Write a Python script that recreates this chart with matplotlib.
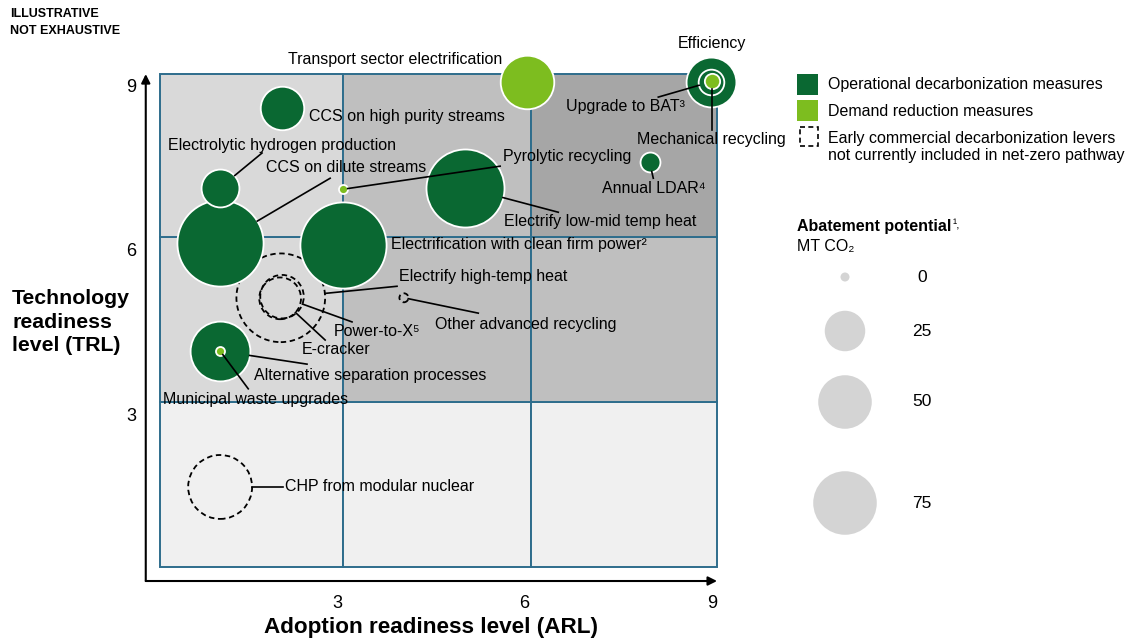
import matplotlib

matplotlib.use("Agg")
import matplotlib.pyplot as plt
import numpy as np
from matplotlib.patches import Rectangle

plt.rcParams["font.family"] = ["Liberation Sans", "DejaVu Sans"]

DPI = 100
W, H = 1128, 638

DARK_GREEN = "#0a6832"
LIGHT_GREEN = "#7dbd1f"
GRID_BLUE = "#2e6d8c"

# bubbles: adoption readiness (x), technology readiness (y), abatement MT CO2, lever type
NAMES = [
    "Electrify high-temp heat", "CCS on dilute streams", "Electrification with clean firm power",
    "Electrify low-mid temp heat", "CHP from modular nuclear", "Alternative separation processes",
    "Transport sector electrification", "Efficiency", "CCS on high purity streams", "Power-to-X",
    "E-cracker", "Electrolytic hydrogen production", "Upgrade to BAT", "Annual LDAR",
    "Mechanical recycling", "Pyrolytic recycling", "Municipal waste upgrades", "Other advanced recycling",
]
ARL = [2.1, 1.13, 3.1, 5.05, 1.13, 1.13, 6.04, 8.99, 2.12, 2.12, 2.09, 1.13, 8.99, 8.0, 9.0, 3.1, 1.13, 4.07]
TRL = [5.12, 6.12, 6.09, 7.13, 1.67, 4.15, 9.06, 9.06, 8.59, 5.14, 5.11, 7.13, 9.06, 7.6, 9.07, 7.1, 4.15, 5.12]
ABATEMENT = [160, 150, 150, 120, 76, 65, 50, 42, 30, 30, 27, 21, 7, 3, 1, 0, 0, 0]
LEVER = ["early", "op", "op", "op", "early", "op", "demand", "op", "op", "early",
         "early", "op", "op", "op", "demand", "demand", "demand", "early"]

SIZE_LEGEND = [0, 25, 50, 75]

# quadrant grid
X_EDGES = [0.16, 3.1, 6.1, 9.08]
Y_EDGES = [0.21, 3.22, 6.23, 9.21]
SHADES = [
    ["#f0f0f0", "#f0f0f0", "#f0f0f0"],
    ["#d9d9d9", "#bfbfbf", "#bfbfbf"],
    ["#d9d9d9", "#bfbfbf", "#a6a6a6"],
]

# label text, position, alignment and leader line end (None = no leader)
LABELS = [
    ("Transport sector electrification", "Transport sector electrification", 5.64, 9.47, "right", None),
    ("Efficiency", "Efficiency", 9.0, 9.75, "center", None),
    ("CCS on high purity streams", "CCS on high purity streams", 2.55, 8.43, "left", None),
    ("Electrolytic hydrogen production", "Electrolytic hydrogen production", 0.3, 7.9, "left", (1.8, 7.76)),
    ("CCS on dilute streams", "CCS on dilute streams", 1.86, 7.5, "left", (2.89, 7.3)),
    ("Pyrolytic recycling", "Pyrolytic recycling", 5.65, 7.69, "left", (5.61, 7.52)),
    ("Electrify low-mid temp heat", "Electrify low-mid temp heat", 5.67, 6.52, "left", (6.54, 6.68)),
    ("Electrification with clean firm power", "Electrification with clean firm power²", 3.86, 6.1, "left", None),
    ("Upgrade to BAT", "Upgrade to BAT³", 8.57, 8.6, "right", (8.14, 8.78)),
    ("Mechanical recycling", "Mechanical recycling", 7.8, 8.0, "left", (9.0, 8.18)),
    ("Annual LDAR", "Annual LDAR⁴", 7.24, 7.12, "left", (8.06, 7.3)),
    ("Electrify high-temp heat", "Electrify high-temp heat", 3.99, 5.5, "left", (3.96, 5.33)),
    ("Power-to-X", "Power-to-X⁵", 2.94, 4.5, "left", (3.24, 4.68)),
    ("E-cracker", "E-cracker", 2.44, 4.17, "left", (2.81, 4.35)),
    ("Other advanced recycling", "Other advanced recycling", 4.57, 4.64, "left", (5.26, 4.84)),
    ("Alternative separation processes", "Alternative separation processes", 1.67, 3.71, "left", (2.52, 3.91)),
    ("Municipal waste upgrades", "Municipal waste upgrades", 0.22, 3.27, "left", (1.58, 3.46)),
    ("CHP from modular nuclear", "CHP from modular nuclear", 2.17, 1.67, "left", (2.14, 1.67)),
]


def radius_px(v):
    return 4.5 + 3.15 * np.sqrt(v)


def marker_area(v):
    return (2 * radius_px(v) * 72 / DPI) ** 2


def px(x, y):
    return x / W, 1 - y / H


fig = plt.figure(figsize=(W / DPI, H / DPI), dpi=DPI)
ax = fig.add_axes([0.127, 0.0846, 0.5264, 0.8337])
ax.set_xlim(-0.1, 9.4)
ax.set_ylim(-0.1, 9.6)
for s in ax.spines.values():
    s.set_visible(False)
ax.set_xticks([3, 6, 9])
ax.set_yticks([3, 6, 9])
ax.tick_params(length=0, labelsize=13)
ax.tick_params(axis="x", pad=8)
ax.tick_params(axis="y", pad=5)

for r in range(3):
    for c in range(3):
        ax.add_patch(Rectangle((X_EDGES[c], Y_EDGES[r]), X_EDGES[c + 1] - X_EDGES[c],
                               Y_EDGES[r + 1] - Y_EDGES[r], facecolor=SHADES[r][c],
                               edgecolor=GRID_BLUE, lw=1.4, zorder=1))

arrow = dict(arrowstyle="-|>", color="black", lw=1.5, mutation_scale=13, shrinkA=0, shrinkB=0)
ax.annotate("", xy=(9.08, -0.045), xytext=(-0.06, -0.045), arrowprops=arrow, annotation_clip=False)
ax.annotate("", xy=(-0.06, 9.2), xytext=(-0.06, -0.045), arrowprops=arrow, annotation_clip=False)

for i, name in enumerate(NAMES):
    z = 5 + i
    if LEVER[i] == "early":
        ax.scatter(ARL[i], TRL[i], s=marker_area(ABATEMENT[i]), facecolors="none", edgecolors="black",
                   linewidths=1.3, linestyles=(0, (3, 2)), zorder=z)
    else:
        color = DARK_GREEN if LEVER[i] == "op" else LIGHT_GREEN
        ax.scatter(ARL[i], TRL[i], s=marker_area(ABATEMENT[i]), color=color, edgecolors="white",
                   linewidths=1.3, zorder=z)

to_disp = ax.transData
for name, text, tx, ty, ha, end in LABELS:
    ax.text(tx, ty, text, ha=ha, va="center", fontsize=11.5, zorder=40)
    if end is None:
        continue
    i = NAMES.index(name)
    c = to_disp.transform((ARL[i], TRL[i]))
    d = to_disp.transform(end) - c
    start = to_disp.inverted().transform(c + d / np.hypot(*d) * radius_px(ABATEMENT[i]))
    ax.plot([start[0], end[0]], [start[1], end[1]], color="black", lw=1.2, zorder=35)

fig.text(*px(10, 22.5), "ILLUSTRATIVE\nNOT EXHAUSTIVE", fontsize=9, fontweight="bold", va="center",
         linespacing=1.65)
fig.text(*px(12, 322), "Technology\nreadiness\nlevel (TRL)", fontsize=15.3, fontweight="bold",
         va="center", linespacing=1.3)
fig.text(*px(431, 627), "Adoption readiness level (ARL)", fontsize=16.2, fontweight="bold",
         ha="center", va="center")

# legend
lax = fig.add_axes([0, 0, 1, 1])
lax.set_xlim(0, W)
lax.set_ylim(H, 0)
lax.axis("off")
lax.patch.set_alpha(0)
lax.add_patch(Rectangle((797, 74), 21, 21, facecolor=DARK_GREEN, edgecolor="none"))
lax.add_patch(Rectangle((797, 100), 21, 21, facecolor=LIGHT_GREEN, edgecolor="none"))
lax.add_patch(Rectangle((800, 127), 18, 19, facecolor="none", edgecolor="black", lw=1.2,
                        linestyle=(0, (3, 2))))
lax.text(828, 85, "Operational decarbonization measures", fontsize=11.5, va="center")
lax.text(828, 111, "Demand reduction measures", fontsize=11.5, va="center")
lax.text(828, 147, "Early commercial decarbonization levers\nnot currently included in net-zero pathway",
         fontsize=11.5, va="center", linespacing=1.1)

title = lax.text(797, 227, "Abatement potential", fontsize=11.5, fontweight="bold", va="center")
lax.annotate("¹,", xy=(1, 0.5), xycoords=title, xytext=(1, 1), textcoords="offset points",
             fontsize=9, va="center")
lax.text(797, 246, "MT CO₂", fontsize=11.5, va="center")
legend_y = [277, 331, 402, 503]
for v, y in zip(SIZE_LEGEND, legend_y):
    lax.scatter(845, y, s=marker_area(v), color="#d4d4d4", edgecolors="none")
    lax.text(922, y, str(v), fontsize=12.5, ha="center", va="center")

fig.savefig("out.png", dpi=DPI)
